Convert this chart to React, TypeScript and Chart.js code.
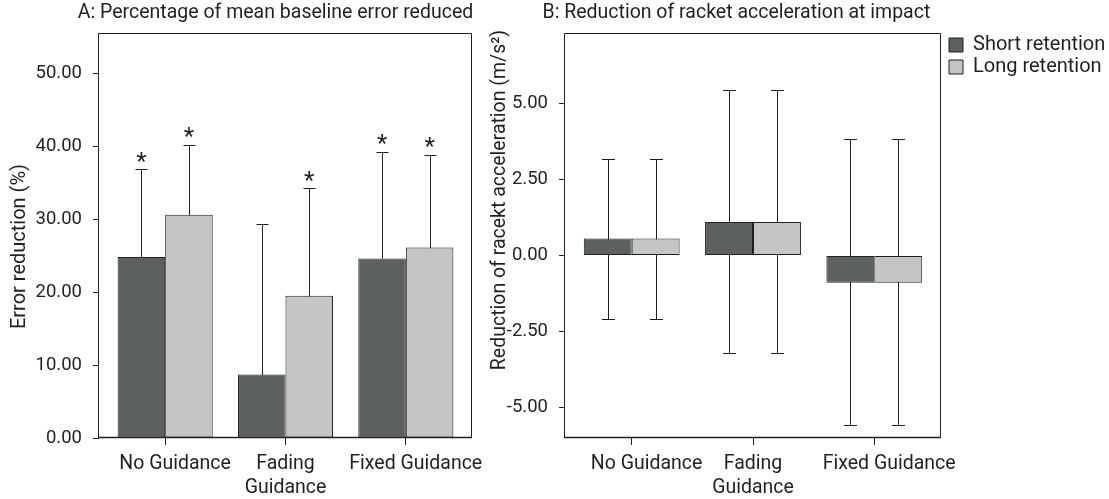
import React, { useEffect, useRef } from 'react';
import { Chart, registerables } from 'chart.js';

Chart.register(...registerables);

// ---------- data ----------
const categoryLabels: (string | string[])[] = ['No Guidance', ['Fading', 'Guidance'], 'Fixed Guidance'];
const seriesNames = ['Short retention', 'Long retention'];

// Panel A: percentage of mean baseline error reduced
const errorShortA = [24.8, 8.7, 24.6];
const errorLongA = [30.6, 19.5, 26.1];
const errorShortUpperA = [36.8, 29.3, 39.2];
const errorLongUpperA = [40.2, 34.2, 38.8];
const significantShortA = [true, false, true];
const significantLongA = [true, true, true];
const yTicksA = [0, 10, 20, 30, 40, 50];

// Panel B: reduction of racket acceleration at impact
const accelShortB = [0.56, 1.1, -0.89];
const accelLongB = [0.56, 1.1, -0.89];
const accelShortLowerB = [-2.1, -3.22, -5.58];
const accelShortUpperB = [3.19, 5.43, 3.84];
const accelLongLowerB = [-2.1, -3.22, -5.58];
const accelLongUpperB = [3.19, 5.43, 3.84];
const yTicksB = [-5, -2.5, 0, 2.5, 5];

// ---------- styles ----------
const INK = '#231f20';
const DARK = '#5c6061';
const LIGHT = '#c4c5c4';
const FONT = 'Roboto';

Chart.defaults.font.family = FONT;
Chart.defaults.color = INK;

type ErrOpts = {
  upper: number[][];
  lower: number[][] | null;
  significant?: boolean[][];
  capWidth: number;
};

function makeErrorBars(o: ErrOpts) {
  return {
    id: 'errorBars',
    beforeDatasetsDraw(chart: any) {
      const { ctx } = chart;
      const ys = chart.scales.y;
      ctx.save();
      ctx.strokeStyle = INK;
      ctx.lineWidth = 1;
      chart.data.datasets.forEach((ds: any, d: number) => {
        const meta = chart.getDatasetMeta(d);
        meta.data.forEach((el: any, i: number) => {
          const x = Math.round(el.x) + 0.5;
          const hi = Math.round(ys.getPixelForValue(o.upper[d][i])) + 0.5;
          const loVal = o.lower ? o.lower[d][i] : ds.data[i].y;
          const lo = Math.round(ys.getPixelForValue(loVal)) + 0.5;
          const c = o.capWidth / 2;
          ctx.beginPath();
          ctx.moveTo(x, lo);
          ctx.lineTo(x, hi);
          ctx.moveTo(x - c, hi);
          ctx.lineTo(x + c, hi);
          if (o.lower) {
            ctx.moveTo(x - c, lo);
            ctx.lineTo(x + c, lo);
          }
          ctx.stroke();
        });
      });
      ctx.restore();
    },
    afterDatasetsDraw(chart: any) {
      if (!o.significant) return;
      const { ctx } = chart;
      const ys = chart.scales.y;
      ctx.save();
      ctx.fillStyle = INK;
      ctx.font = `24px ${FONT}`;
      ctx.textAlign = 'center';
      ctx.textBaseline = 'alphabetic';
      chart.data.datasets.forEach((_ds: any, d: number) => {
        const meta = chart.getDatasetMeta(d);
        meta.data.forEach((el: any, i: number) => {
          if (!o.significant![d][i]) return;
          const hi = ys.getPixelForValue(o.upper[d][i]);
          ctx.fillText('*', el.x, hi - 0.5);
        });
      });
      ctx.restore();
    },
  };
}

const frameBox = {
  id: 'frameBox',
  afterDatasetsDraw(chart: any) {
    const { ctx, chartArea: a } = chart;
    ctx.save();
    ctx.strokeStyle = INK;
    ctx.lineWidth = 1;
    ctx.beginPath();
    ctx.moveTo(a.left - 0.5, a.bottom);
    ctx.lineTo(a.left - 0.5, a.top + 0.5);
    ctx.lineTo(a.right - 0.5, a.top + 0.5);
    ctx.lineTo(a.right - 0.5, a.bottom);
    ctx.stroke();
    ctx.lineWidth = 1.6;
    ctx.beginPath();
    ctx.moveTo(a.left - 1, a.bottom - 0.5);
    ctx.lineTo(a.right, a.bottom - 0.5);
    ctx.stroke();
    ctx.restore();
  },
};

type TextOpts = {
  title: string;
  titleDx: number;
  titleY: number;
  yTitle: string;
  yTitleX: number;
  yTitleY: number;
  yTitleSize: number;
};

function makePanelText(o: TextOpts) {
  return {
    id: 'panelText',
    afterDraw(chart: any) {
      const { ctx, chartArea: a } = chart;
      ctx.save();
      ctx.fillStyle = INK;
      ctx.textAlign = 'center';
      ctx.textBaseline = 'middle';
      ctx.font = `19.5px ${FONT}`;
      ctx.fillText(o.title, (a.left + a.right) / 2 + o.titleDx, o.titleY);
      ctx.translate(o.yTitleX, o.yTitleY);
      ctx.rotate(-Math.PI / 2);
      ctx.font = `${o.yTitleSize}px ${FONT}`;
      ctx.fillText(o.yTitle, 0, 0);
      ctx.restore();
    },
  };
}

function barDataset(label: string, values: number[], color: string) {
  return {
    label,
    data: values.map((v, i) => ({ x: i, y: v })),
    backgroundColor: color,
    borderColor: INK,
    borderWidth: 1,
    borderSkipped: false,
    categoryPercentage: 0.79,
    barPercentage: 1,
  };
}

// single-line labels sit a little right of their tick in the original layout
function xScale(indent: number) {
  const pad = '\u2002'.repeat(indent);
  return {
    type: 'linear',
    min: -0.55,
    max: 2.55,
    offset: false,
    afterBuildTicks: (s: any) => {
      s.ticks = categoryLabels.map((_l, i) => ({ value: i }));
    },
    afterFit: (s: any) => {
      s.height = 61;
    },
    grid: { drawOnChartArea: false, drawTicks: true, tickLength: 7, color: INK, lineWidth: 1, offset: false },
    border: { display: false },
    ticks: {
      callback: (v: any) => {
        const l = categoryLabels[v as number];
        return Array.isArray(l) ? l : pad + l;
      },
      font: { size: 19.5, lineHeight: 1.25 },
      color: INK,
      padding: 7,
      maxRotation: 0,
      minRotation: 0,
      autoSkip: false,
    },
  };
}

function yScale(min: number, max: number, tickVals: number[], width: number) {
  return {
    type: 'linear',
    min,
    max,
    afterBuildTicks: (s: any) => {
      s.ticks = tickVals.map((v) => ({ value: v }));
    },
    afterFit: (s: any) => {
      s.width = width;
    },
    grid: { drawOnChartArea: false, drawTicks: true, tickLength: 6, color: INK, lineWidth: 1 },
    border: { display: false },
    ticks: {
      callback: (v: any) => Number(v).toFixed(2),
      font: { size: 18.5 },
      color: INK,
      padding: 11,
    },
  };
}

function configA(): any {
  return {
    type: 'bar',
    data: {
      datasets: [barDataset(seriesNames[0], errorShortA, DARK), barDataset(seriesNames[1], errorLongA, LIGHT)],
    },
    options: {
      responsive: false,
      animation: false,
      events: [],
      layout: { padding: { top: 33, right: 28, left: 0, bottom: 0 } },
      plugins: { legend: { display: false }, tooltip: { enabled: false }, title: { display: false } },
      scales: {
        x: xScale(2),
        y: yScale(0, 55.5, yTicksA, 99),
      },
    },
    plugins: [
      makeErrorBars({
        upper: [errorShortUpperA, errorLongUpperA],
        lower: null,
        significant: [significantShortA, significantLongA],
        capWidth: 12,
      }),
      frameBox,
      makePanelText({
        title: 'A: Percentage of mean baseline error reduced',
        titleDx: -10,
        titleY: 13.5,
        yTitle: 'Error reduction (%)',
        yTitleX: 19.8,
        yTitleY: 246.5,
        yTitleSize: 20,
      }),
    ],
  };
}

function configB(): any {
  return {
    type: 'bar',
    data: {
      datasets: [barDataset(seriesNames[0], accelShortB, DARK), barDataset(seriesNames[1], accelLongB, LIGHT)],
    },
    options: {
      responsive: false,
      animation: false,
      events: [],
      layout: { padding: { top: 33, right: 0, left: 0, bottom: 0 } },
      plugins: {
        tooltip: { enabled: false },
        title: { display: false },
        legend: {
          display: true,
          position: 'right',
          align: 'start',
          maxWidth: 162,
          labels: { boxWidth: 14, boxHeight: 14, padding: 2, font: { size: 20 }, color: INK },
        },
      },
      scales: {
        x: xScale(3),
        y: yScale(-6, 7.32, yTicksB, 85),
        ySpacer: {
          type: 'linear',
          position: 'right',
          display: true,
          grid: { display: false },
          border: { display: false },
          ticks: { display: false },
          afterFit: (s: any) => {
            s.width = 6;
          },
        },
      },
    },
    plugins: [
      makeErrorBars({
        upper: [accelShortUpperB, accelLongUpperB],
        lower: [accelShortLowerB, accelLongLowerB],
        capWidth: 13,
      }),
      frameBox,
      makePanelText({
        title: 'B: Reduction of racket acceleration at impact',
        titleDx: -16.6,
        titleY: 13.5,
        yTitle: 'Reduction of racekt acceleration (m/s²)',
        yTitleX: 20,
        yTitleY: 200,
        yTitleSize: 19.5,
      }),
    ],
  };
}

export default function App() {
  const refA = useRef<HTMLCanvasElement>(null);
  const refB = useRef<HTMLCanvasElement>(null);

  useEffect(() => {
    const a = new Chart(refA.current as HTMLCanvasElement, configA());
    const b = new Chart(refB.current as HTMLCanvasElement, configB());
    return () => {
      a.destroy();
      b.destroy();
    };
  }, []);

  return (
    <div style={{ position: 'absolute', left: 0, top: 0, width: 1109, height: 499, background: '#ffffff' }}>
      <canvas ref={refA} width={500} height={499} style={{ position: 'absolute', left: 0, top: 0 }} />
      <canvas ref={refB} width={629} height={499} style={{ position: 'absolute', left: 480, top: 0 }} />
    </div>
  );
}
